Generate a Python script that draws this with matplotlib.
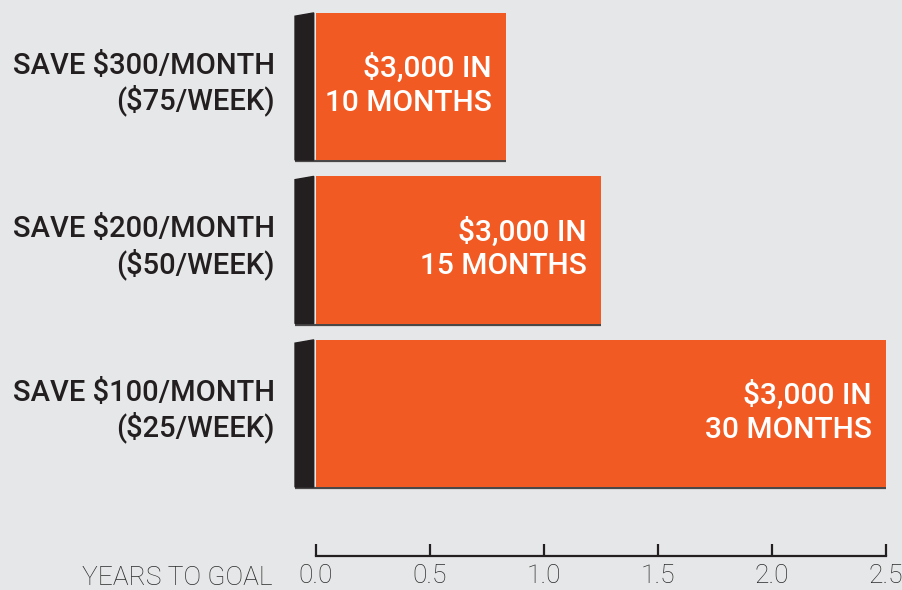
import matplotlib
matplotlib.use("Agg")
import matplotlib.pyplot as plt
from matplotlib.patches import Polygon

# data
plans = ["SAVE $300/MONTH\n($75/WEEK)", "SAVE $200/MONTH\n($50/WEEK)", "SAVE $100/MONTH\n($25/WEEK)"]
years = [10 / 12, 15 / 12, 30 / 12]
bar_text = ["$3,000 IN\n10 MONTHS", "$3,000 IN\n15 MONTHS", "$3,000 IN\n30 MONTHS"]
ticks = [0.0, 0.5, 1.0, 1.5, 2.0, 2.5]

bg = "#e6e7e8"
orange = "#f15a22"
dark = "#231f20"

W, H = 902, 590
fig = plt.figure(figsize=(W / 100, H / 100), dpi=100, facecolor=bg)
ax = fig.add_axes([316 / W, 34 / H, 570 / W, 556 / H])
ax.set_facecolor(bg)

ypos = list(range(len(plans)))
bars = ax.barh(ypos, years, height=0.9, color=orange, zorder=3)
ax.set_xlim(0, 2.5)
ax.set_ylim(2.872, -0.529)

side = 0.092  # depth of dark side
for b, txt, lab in zip(bars, bar_text, plans):
    y0 = b.get_y()
    h = b.get_height()
    x1 = b.get_width()
    # dark left side, slightly slanted at the top
    poly = Polygon([(-side, y0 + 0.02), (-0.01, y0), (-0.01, y0 + h), (-side, y0 + h)],
                   closed=True, color=dark, clip_on=False, zorder=2)
    ax.add_patch(poly)
    # bottom shadow edge
    ax.plot([-side, x1], [y0 + h + 0.006, y0 + h + 0.006], color=dark, lw=1.6,
            alpha=0.8, solid_capstyle="butt", clip_on=False, zorder=2)
    yc = y0 + h / 2
    ax.text(x1 - 0.062, yc - 0.01, txt, ha="right", va="center", color="white",
            fontsize=21.5, fontweight="medium", family="Roboto", linespacing=1.25,
            zorder=4)
    ax.text(-0.18, yc - 0.015, lab, ha="right", va="center", color=dark,
            fontsize=21, fontweight="medium", family="Roboto", linespacing=1.2)

for s in ["top", "right", "left"]:
    ax.spines[s].set_visible(False)
ax.spines["bottom"].set_color(dark)
ax.spines["bottom"].set_linewidth(1.6)
ax.set_yticks([])
ax.set_xticks(ticks)
ax.set_xticklabels([f"{t:.1f}" for t in ticks], family="Roboto", fontweight="light",
                   fontsize=19, color="#2a2a2a")
ax.tick_params(axis="x", direction="in", length=9, width=1.6, color=dark, pad=6)

fig.text(272 / W, 1 - 578 / H, "YEARS TO GOAL", ha="right", va="center",
         family="Roboto", fontweight="light", fontsize=19, color="#2a2a2a")

fig.savefig("out.png", dpi=100, facecolor=bg)
